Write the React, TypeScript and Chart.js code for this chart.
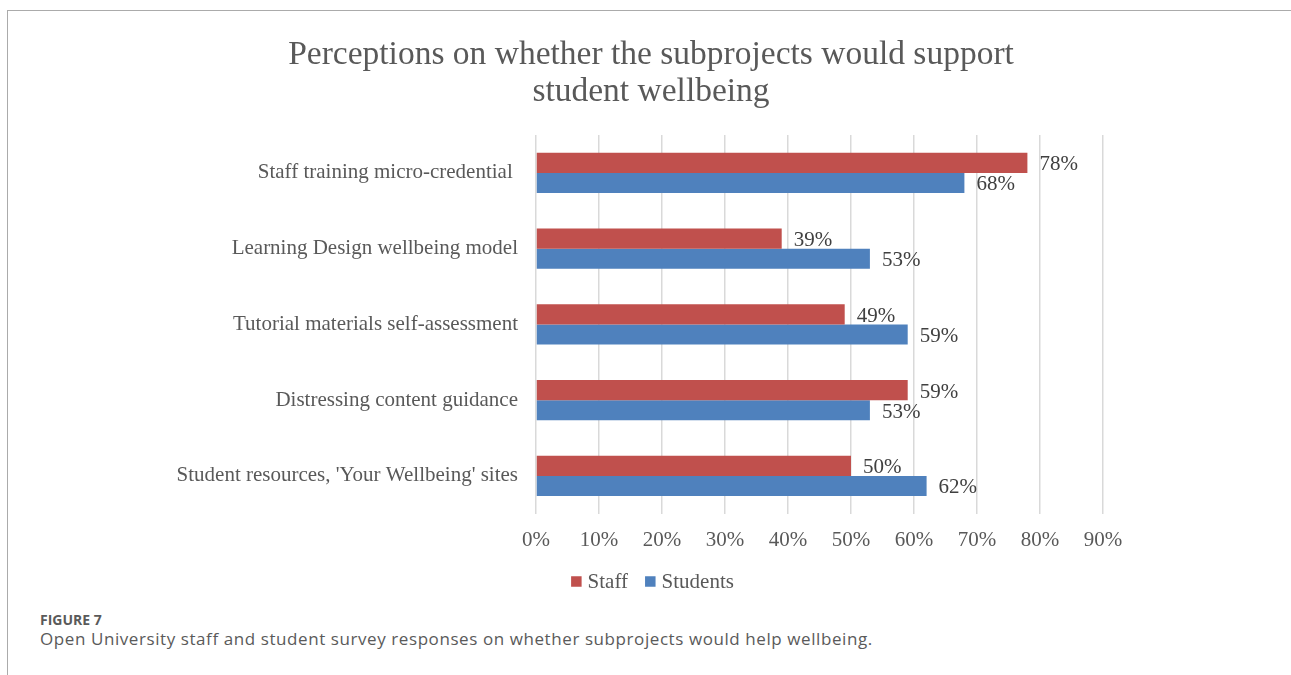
import React, { useEffect, useRef } from "react";
import { Chart, registerables } from "chart.js";

Chart.register(...registerables);

const titleLines = ["Perceptions on whether the subprojects would support", "student wellbeing"];
const categories = [
  "Staff training micro-credential ",
  "Learning Design wellbeing model",
  "Tutorial materials self-assessment",
  "Distressing content guidance",
  "Student resources, 'Your Wellbeing' sites",
];
const seriesNames = ["Staff", "Students"];
const staffValues = [78, 39, 49, 59, 50];
const studentValues = [68, 53, 59, 53, 62];
const seriesColors = ["#C0504D", "#4F81BD"];
const axisMax = 90;
const axisStep = 10;

const SERIF = '"Liberation Serif", "DejaVu Serif", serif';
const FS = 21;

const dataLabelPlugin = {
  id: "dataLabels",
  afterDatasetsDraw(chart: any) {
    const ctx = chart.ctx;
    ctx.save();
    ctx.font = `${FS}px ${SERIF}`;
    ctx.fillStyle = "#404040";
    ctx.textBaseline = "middle";
    ctx.textAlign = "left";
    chart.data.datasets.forEach((ds: any, i: number) => {
      const meta = chart.getDatasetMeta(i);
      meta.data.forEach((bar: any, j: number) => {
        ctx.fillText(`${ds.data[j]}%`, bar.x + 12, bar.y + 2);
      });
    });
    ctx.restore();
  },
};

const widenLabelAreaPlugin = {
  id: "widenLabelArea",
  afterLayout(chart: any) {
    const y = chart.scales.y;
    if (y) y.left = 0;
  },
};

const customLegendPlugin = {
  id: "customLegend",
  afterDraw(chart: any) {
    const ctx = chart.ctx;
    ctx.save();
    ctx.font = `${FS}px ${SERIF}`;
    const box = 10.5;
    const gapText = 6;
    const gapItem = 17;
    const items = chart.data.datasets.map((ds: any) => ({
      text: ds.label,
      color: ds.backgroundColor,
      w: ctx.measureText(ds.label).width,
    }));
    const total =
      items.reduce((s: number, it: any) => s + box + gapText + it.w, 0) + gapItem * (items.length - 1);
    let x = chart.width / 2 + 3 - total / 2;
    const cy = 570.5;
    ctx.textBaseline = "middle";
    ctx.textAlign = "left";
    items.forEach((it: any) => {
      ctx.fillStyle = it.color;
      ctx.fillRect(x, cy - box / 2, box, box);
      x += box + gapText;
      ctx.fillStyle = "#595959";
      ctx.fillText(it.text, x, cy + 1);
      x += it.w + gapItem;
    });
    ctx.restore();
  },
};

export default function App() {
  const ref = useRef<HTMLCanvasElement | null>(null);

  useEffect(() => {
    if (!ref.current) return;
    const chart = new Chart(ref.current, {
      type: "bar",
      data: {
        labels: categories,
        datasets: [
          {
            label: seriesNames[0],
            data: staffValues,
            backgroundColor: seriesColors[0],
            categoryPercentage: 0.53,
            barPercentage: 1,
          },
          {
            label: seriesNames[1],
            data: studentValues,
            backgroundColor: seriesColors[1],
            categoryPercentage: 0.53,
            barPercentage: 1,
          },
        ],
      },
      options: {
        indexAxis: "y",
        animation: false,
        responsive: true,
        maintainAspectRatio: false,
        layout: { padding: { left: 191, right: 188, top: 0, bottom: 33 } },
        scales: {
          x: {
            min: 0,
            max: axisMax,
            ticks: {
              stepSize: axisStep,
              color: "#595959",
              font: { family: SERIF, size: FS },
              padding: 14,
              callback: (v: any) => `${v}%`,
            },
            grid: { color: "#d9d9d9", lineWidth: 1.5, drawTicks: false },
            border: { display: false },
          },
          y: {
            ticks: {
              color: "#595959",
              font: { family: SERIF, size: FS },
              padding: 18,
            },
            grid: { display: false, drawTicks: false },
            border: { display: false },
            afterFit: (scale: any) => {
              scale.width = 337;
            },
          },
        },
        plugins: {
          title: {
            display: true,
            text: titleLines,
            color: "#595959",
            font: { family: SERIF, size: 33.5, weight: "normal", lineHeight: 1.1 },
            padding: { top: 25.6, bottom: 24.7 },
          },
          legend: { display: false },
          tooltip: { enabled: false },
        },
      },
      plugins: [dataLabelPlugin, widenLabelAreaPlugin, customLegendPlugin],
    });
    return () => chart.destroy();
  }, []);

  return (
    <>
      <div
        style={{
          position: "absolute",
          left: 7,
          top: 10,
          width: 1284,
          height: 665,
          borderLeft: "1px solid #ababab",
          borderTop: "1px solid #ababab",
          boxSizing: "border-box",
        }}
      />
      <div style={{ position: "absolute", left: 8, top: 11, width: 1283, height: 589 }}>
        <canvas ref={ref} />
      </div>
      <div
        style={{
          position: "absolute",
          left: 40,
          top: 612.6,
          fontFamily: '"Open Sans", sans-serif',
          fontWeight: 700,
          fontSize: 14,
          lineHeight: "14px",
          color: "#5a5a5a",
          whiteSpace: "nowrap",
        }}
      >
        FIGURE 7
      </div>
      <div
        style={{
          position: "absolute",
          left: 40,
          top: 629.5,
          fontFamily: '"Open Sans", sans-serif',
          fontSize: 17,
          lineHeight: "17px",
          letterSpacing: 0.58,
          color: "#5a5a5a",
          whiteSpace: "nowrap",
        }}
      >
        Open University staff and student survey responses on whether subprojects would help wellbeing.
      </div>
    </>
  );
}
